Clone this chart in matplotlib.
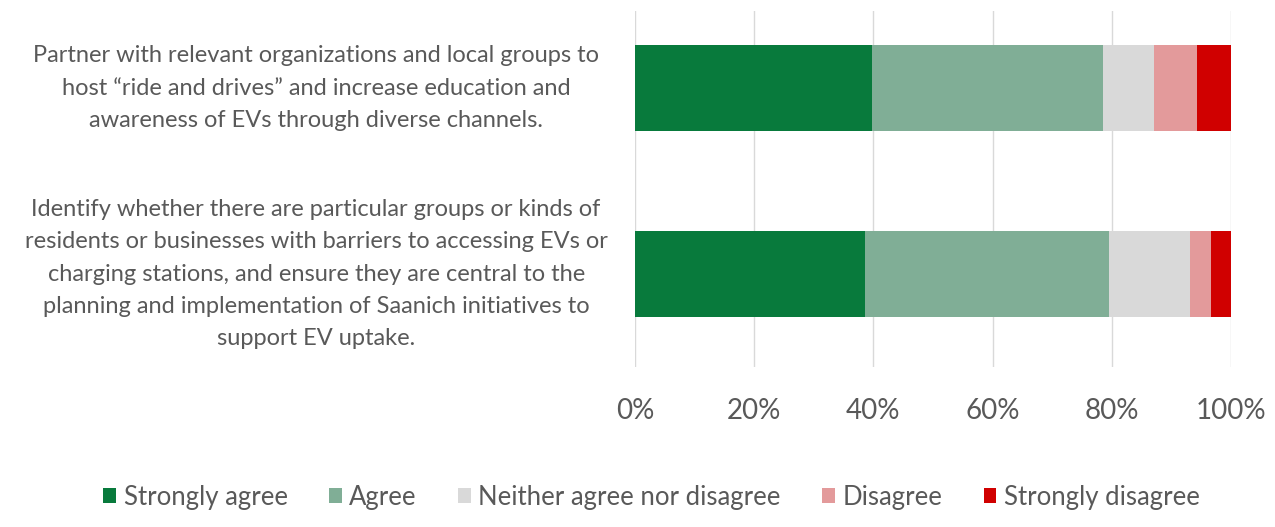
import matplotlib.pyplot as plt
from matplotlib.ticker import PercentFormatter

plt.rcParams['font.family'] = ['Lato', 'DejaVu Sans']

# Survey statements (y categories)
statements = [
    'Partner with relevant organizations and local groups to\n'
    'host \u201cride and drives\u201d and increase education and\n'
    'awareness of EVs through diverse channels.',
    'Identify whether there are particular groups or kinds of\n'
    'residents or businesses with barriers to accessing EVs or\n'
    'charging stations, and ensure they are central to the\n'
    'planning and implementation of Saanich initiatives to\n'
    'support EV uptake.',
]

responses = ['Strongly agree', 'Agree', 'Neither agree nor disagree',
             'Disagree', 'Strongly disagree']

# percent of respondents, one list per response
strongly_agree = [39.8, 38.6]
agree = [38.8, 40.9]
neither = [8.4, 13.7]
disagree = [7.3, 3.4]
strongly_disagree = [5.7, 3.4]

colors = ['#087a3c', '#80ae96', '#d9d9d9', '#e39a9b', '#d00000']

series = [strongly_agree, agree, neither, disagree, strongly_disagree]

fig = plt.figure(figsize=(12.75, 5.27), dpi=100)
ax = fig.add_axes([635 / 1275, 1 - 367 / 527, 596 / 1275, 356 / 527])

ypos = list(range(len(statements)))
left = [0.0] * len(statements)
for name, vals, col in zip(responses, series, colors):
    ax.barh(ypos, vals, left=left, height=0.46, color=col, label=name, zorder=3)
    left = [l + v for l, v in zip(left, vals)]

ax.set_xlim(0, 100)
ax.set_ylim(1.5, -0.414)
ax.set_xticks([0, 20, 40, 60, 80, 100])
ax.xaxis.set_major_formatter(PercentFormatter(decimals=0))
ax.tick_params(axis='x', length=0, labelsize=20, labelcolor='#595959', pad=22)
ax.tick_params(axis='y', length=0, pad=0)
ax.set_yticks(ypos)
ax.set_yticklabels([])
for y, txt in zip(ypos, statements):
    ax.text(-0.535, y, txt, transform=ax.get_yaxis_transform(), ha='center',
            va='center', fontsize=17, color='#595959', linespacing=1.65)
ax.grid(axis='x', color='#d9d9d9', linewidth=1, zorder=0)
for s in ax.spines.values():
    s.set_visible(False)

fig.legend(loc='center', bbox_to_anchor=(0.511, 1 - 497 / 527), ncol=5,
           frameon=False, fontsize=18.5, handlelength=0.5, handleheight=0.5,
           handletextpad=0.3, columnspacing=1.6, labelcolor='#595959')

fig.savefig('out.png', dpi=100)
